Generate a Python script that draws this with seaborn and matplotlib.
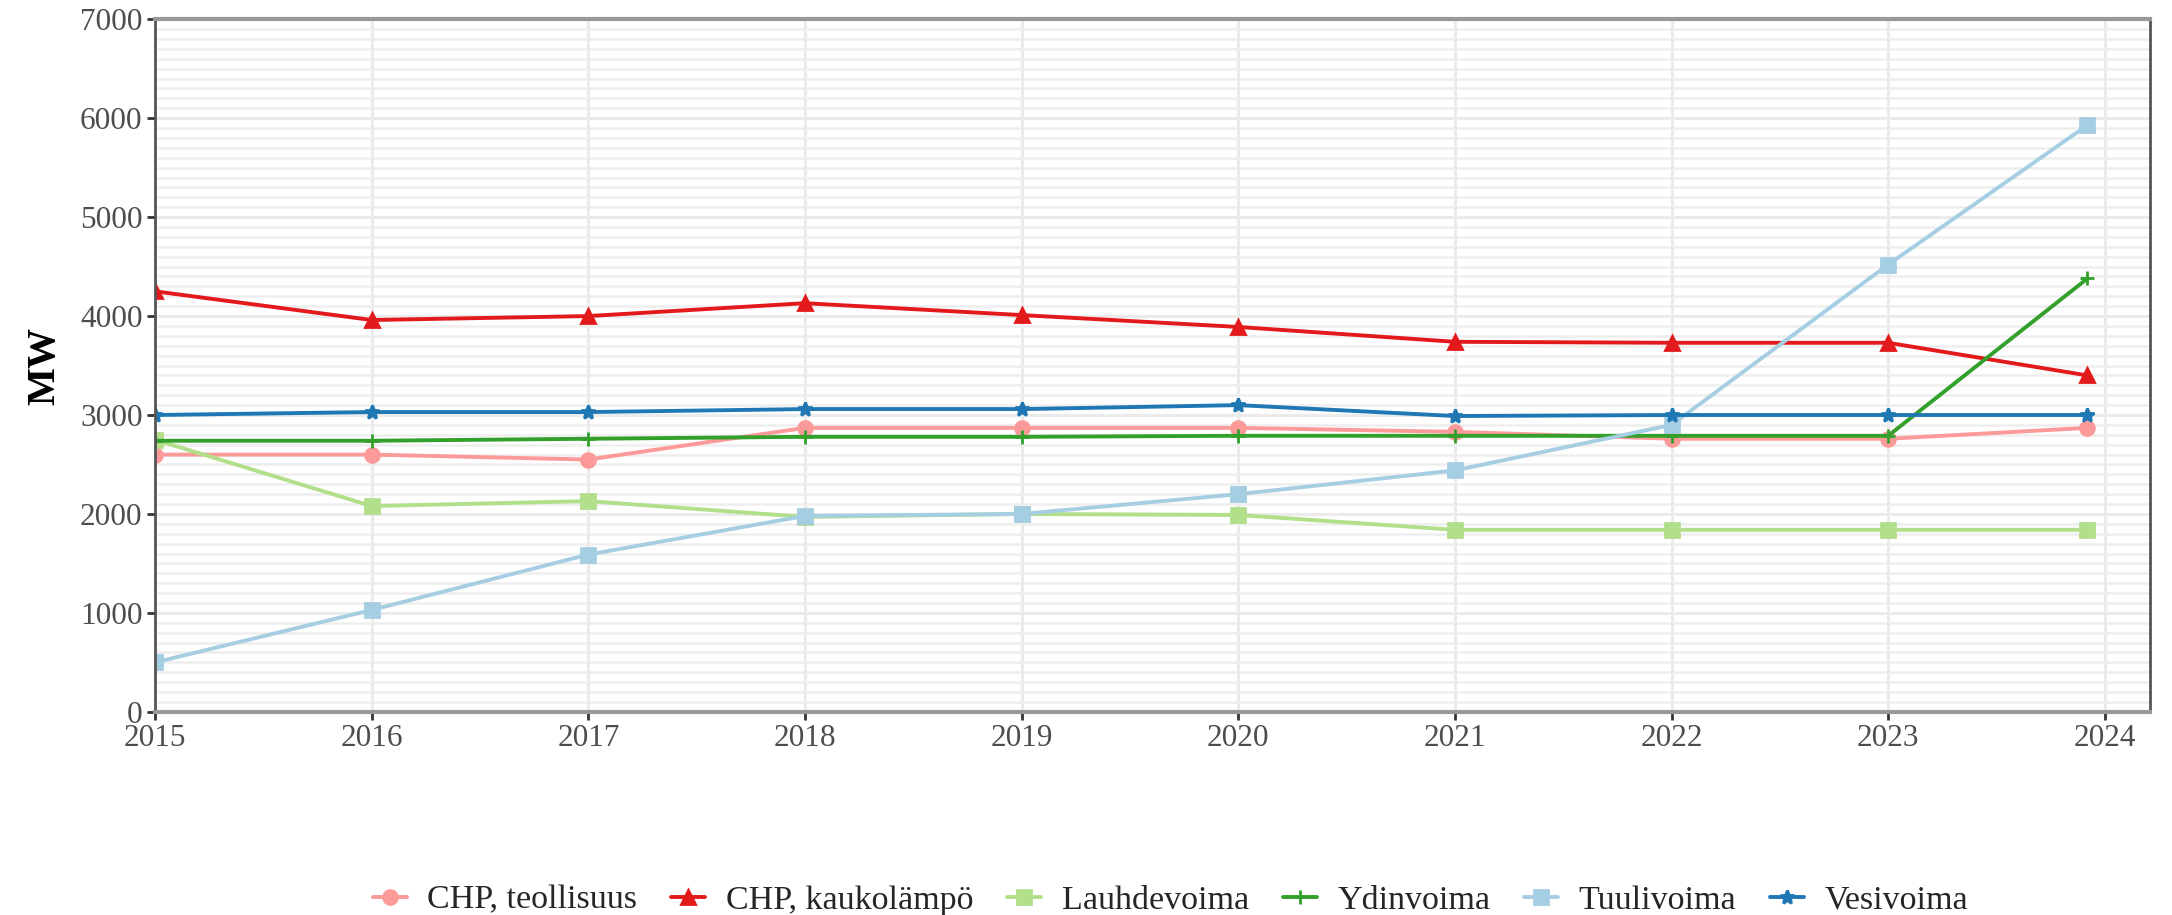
import numpy as np
import pandas as pd
import matplotlib
matplotlib.use('Agg')
import matplotlib.pyplot as plt
from matplotlib.ticker import MultipleLocator
import seaborn as sns

# Capacity by production type (MW)
years = [2015, 2016, 2017, 2018, 2019, 2020, 2021, 2022, 2023, 2023.92]
chp_teollisuus = [2600, 2600, 2550, 2870, 2870, 2870, 2830, 2760, 2760, 2870]
chp_kaukolampo = [4250, 3960, 4000, 4130, 4010, 3890, 3740, 3730, 3730, 3400]
lauhdevoima = [2750, 2080, 2130, 1970, 2000, 1990, 1840, 1840, 1840, 1840]
ydinvoima = [2740, 2740, 2760, 2780, 2780, 2790, 2790, 2790, 2790, 4380]
tuulivoima = [500, 1030, 1590, 1980, 2000, 2200, 2440, 2900, 4520, 5930]
vesivoima = [3000, 3030, 3030, 3060, 3060, 3100, 2990, 3000, 3000, 3000]

series_names = ['CHP, teollisuus', 'CHP, kaukolämpö', 'Lauhdevoima',
                'Ydinvoima', 'Tuulivoima', 'Vesivoima']
series_values = [chp_teollisuus, chp_kaukolampo, lauhdevoima,
                 ydinvoima, tuulivoima, vesivoima]
x_ticks = [2015, 2016, 2017, 2018, 2019, 2020, 2021, 2022, 2023, 2024]

df = pd.DataFrame({
    'vuosi': np.tile(years, len(series_names)),
    'MW': np.concatenate(series_values),
    'tyyppi': np.repeat(series_names, len(years)),
})

sns.set_theme(style='white')
plt.rcParams['font.family'] = ['Liberation Serif', 'DejaVu Serif']

# ColorBrewer "Paired", light/dark pairs per fuel group
colors = ['#fb9a99', '#e31a1c', '#b2df8a', '#33a02c', '#a6cee3', '#1f78b4']
marker_list = ['o', '^', 's', '+', 's', '*']

fig, ax = plt.subplots(figsize=(21.72, 9.15), dpi=100)
fig.subplots_adjust(left=0.0714, right=0.990, top=0.979, bottom=0.222)

for name, col, mk in zip(series_names, colors, marker_list):
    sub = df[df['tyyppi'] == name]
    sns.lineplot(data=sub, x='vuosi', y='MW', color=col, marker=mk,
                 linewidth=2.8, markersize=10, markeredgewidth=2,
                 markeredgecolor=col, label=name, ax=ax)

ax.set_xlim(2015, 2024.21)
ax.set_ylim(0, 7000)
ax.set_xticks(x_ticks)
ax.yaxis.set_major_locator(MultipleLocator(1000))
ax.yaxis.set_minor_locator(MultipleLocator(100))
ax.grid(True, which='major', color='#ebebeb', linewidth=2.2)
ax.grid(True, which='minor', axis='y', color='#eeeeee', linewidth=1.8)
ax.set_axisbelow(True)

ax.set_xlabel('')
ax.set_ylabel('MW', fontsize=29, fontweight='bold', color='black', labelpad=12)
ax.tick_params(axis='both', which='major', labelsize=22.5, labelcolor='#4d4d4d',
               length=6, width=2, color='#333333', bottom=True, left=True,
               pad=3)
ax.tick_params(axis='both', which='minor', length=0)

for side in ['left', 'right']:
    ax.spines[side].set_color('#555555')
    ax.spines[side].set_linewidth(2)
for side in ['top', 'bottom']:
    ax.spines[side].set_color('#999999')
    ax.spines[side].set_linewidth(3)

handles, labels = ax.get_legend_handles_labels()
ax.legend(handles, labels, loc='center', bbox_to_anchor=(0.509, -0.272),
          ncol=6, frameon=False, fontsize=24.5, handlelength=1.0,
          columnspacing=1.0, handletextpad=0.6)

plt.savefig('out.png', dpi=100)
